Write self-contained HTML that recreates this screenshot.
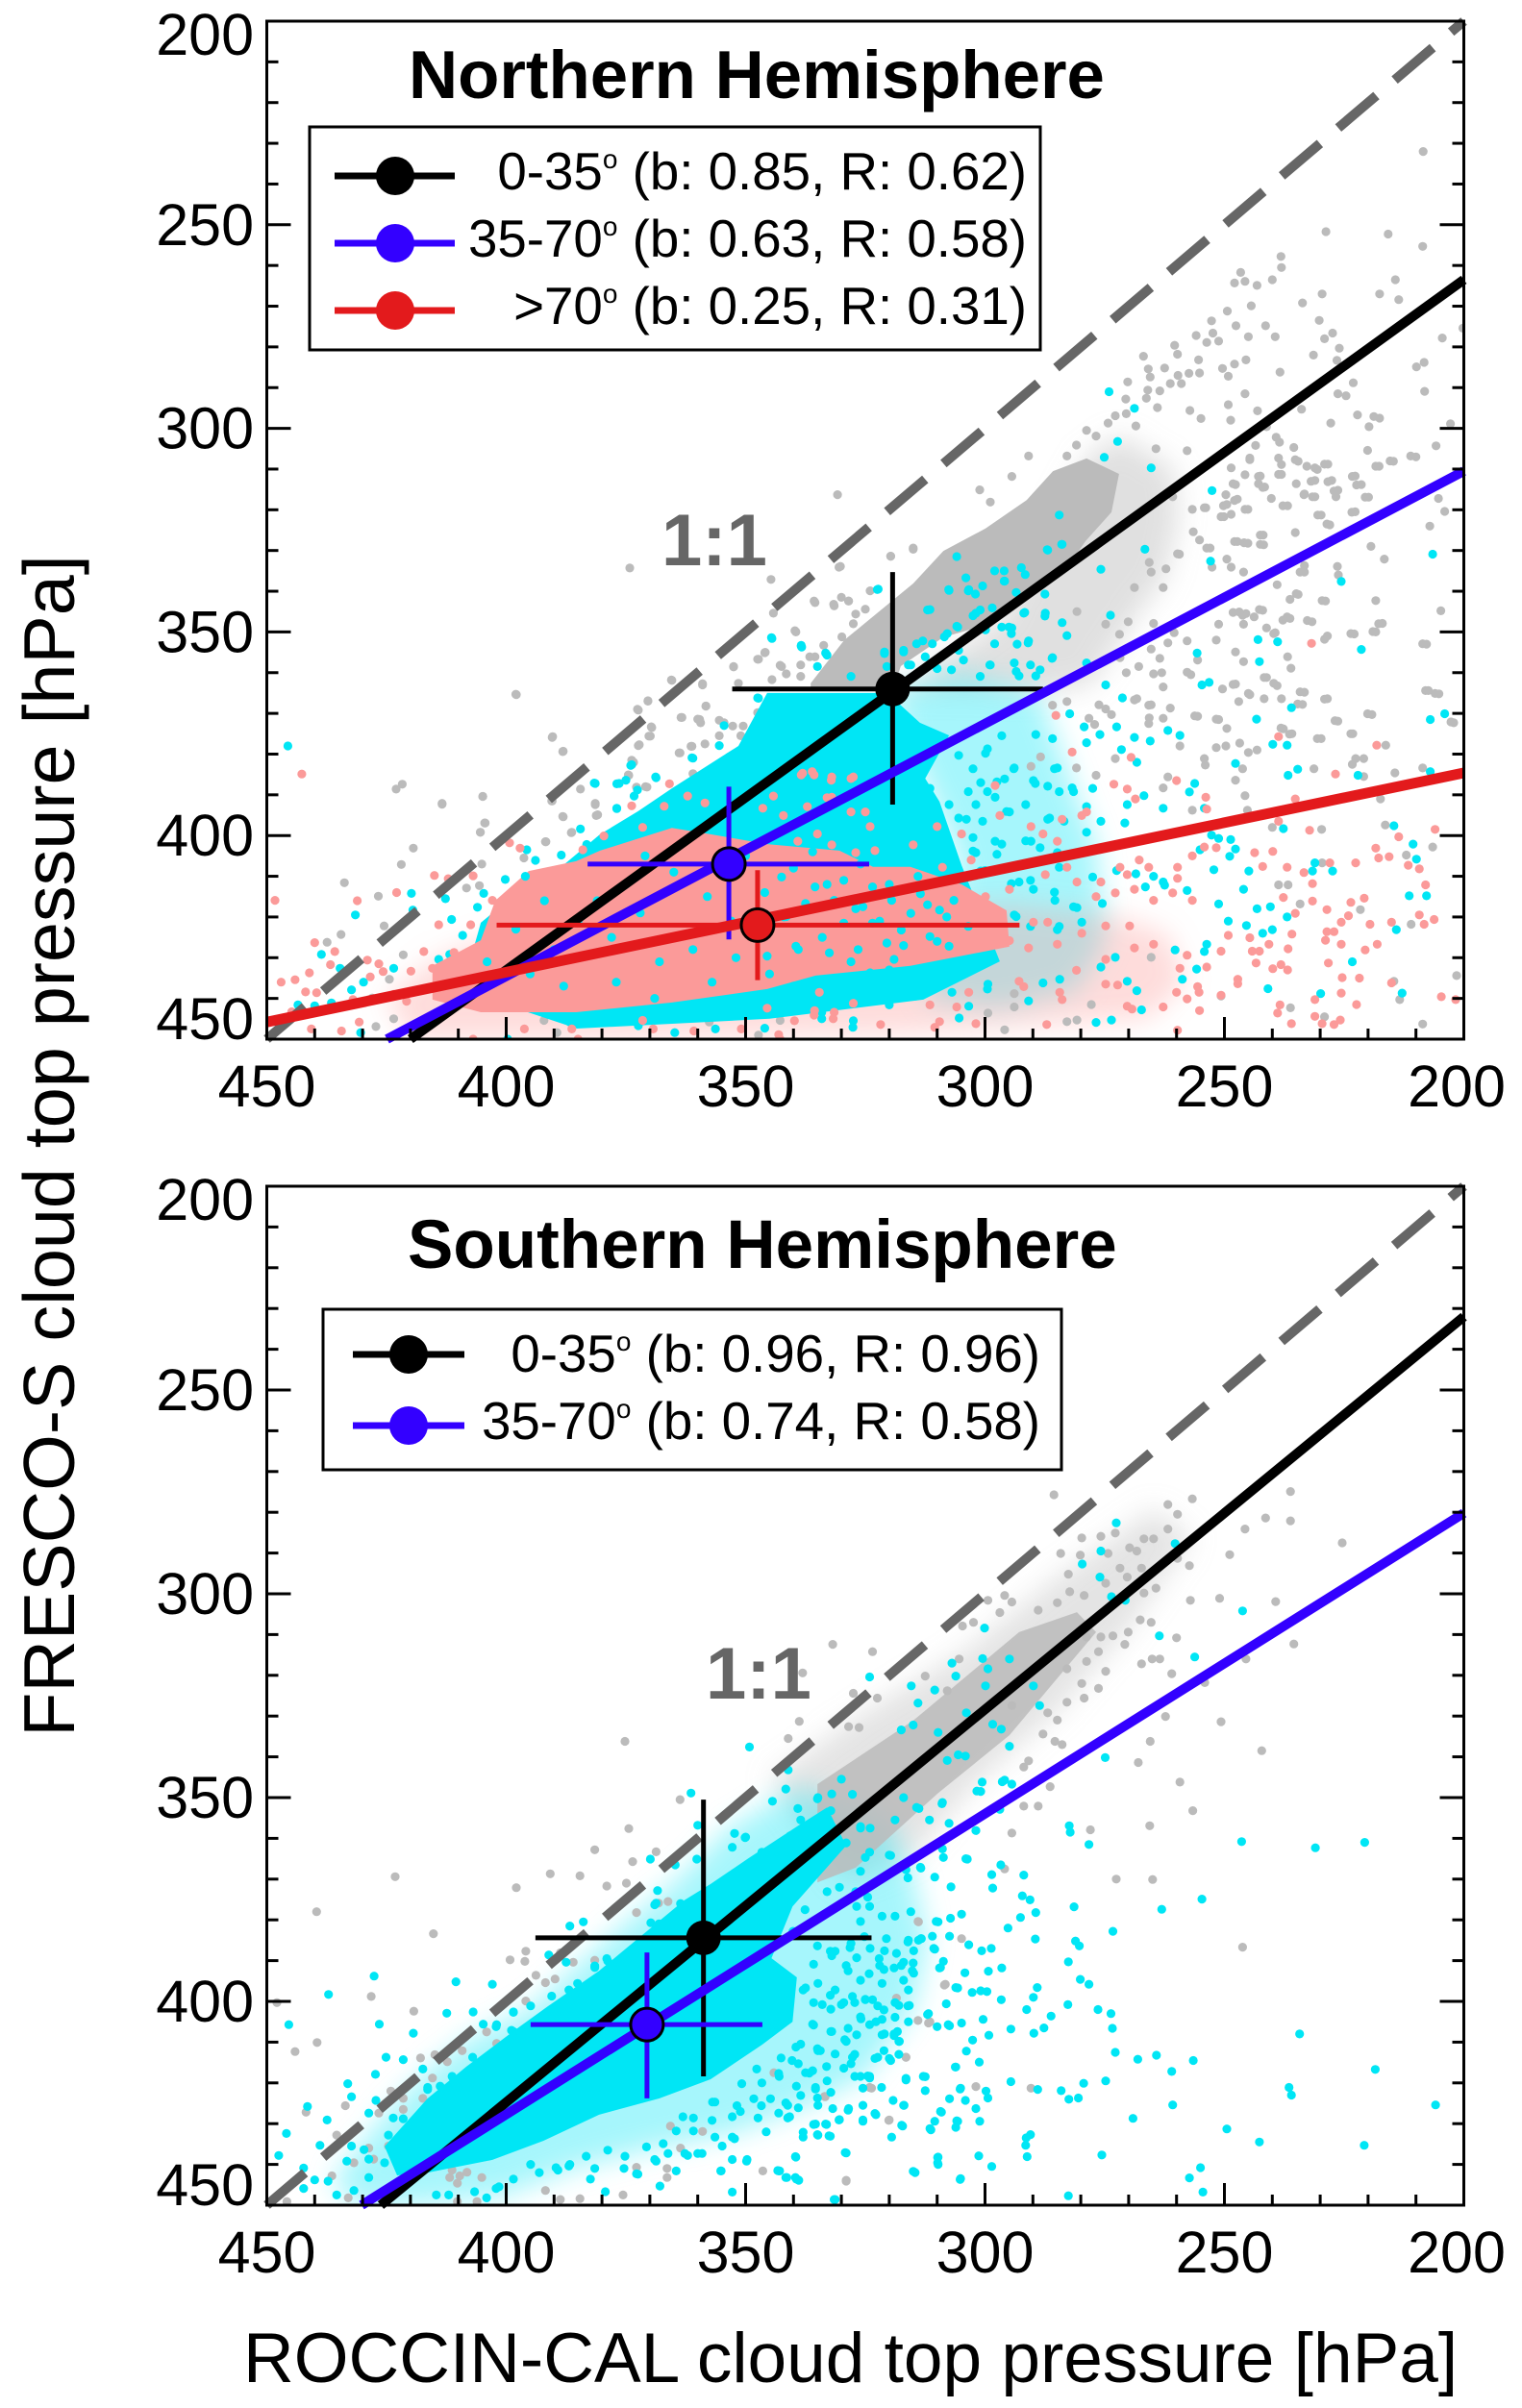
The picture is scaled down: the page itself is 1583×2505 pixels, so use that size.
<!DOCTYPE html>
<html lang="en">
<head>
<meta charset="utf-8">
<title>FRESCO-S vs ROCCIN-CAL cloud top pressure</title>
<style>
html,body{margin:0;padding:0;background:#fff;}
svg{display:block;font-family:"Liberation Sans",sans-serif;}
</style>
</head>
<body>
<svg id="figure" xmlns="http://www.w3.org/2000/svg" width="1583" height="2505" viewBox="0 0 1583 2505">
<defs>
<clipPath id="clip-north"><rect x="277.5" y="22" width="1245" height="1059"/></clipPath>
<clipPath id="clip-south"><rect x="277.5" y="1234" width="1245" height="1060"/></clipPath>
<filter id="soften" x="-20%" y="-20%" width="140%" height="140%"><feGaussianBlur stdDeviation="14"/></filter>
</defs>
<rect x="0" y="0" width="1583" height="2505" fill="#fff"/>
<g id="north-scatter" clip-path="url(#clip-north)"></g>
<g id="south-scatter" clip-path="url(#clip-south)"></g>
<g id="north-lines"></g>
<g id="south-lines"></g>
<g id="north-axes"></g>
<g id="south-axes"></g>

<text x="425" y="102" font-size="70.8" font-weight="bold">Northern Hemisphere</text>
<text x="424" y="1319" font-size="71" font-weight="bold">Southern Hemisphere</text>
<text x="688" y="588" font-size="76" font-weight="bold" fill="#666">1:1</text>
<text x="734" y="1767" font-size="76" font-weight="bold" fill="#666">1:1</text>

<g>
<rect x="322" y="132" width="760" height="232" fill="#fff" stroke="#000" stroke-width="3"/>
<line x1="348" x2="473" y1="183" y2="183" stroke="#000" stroke-width="7"/>
<circle cx="411" cy="183" r="20" fill="#000"/>
<text x="1068" y="197" font-size="54.7" text-anchor="end">0-35<tspan dy="-22" font-size="28">o</tspan><tspan dy="22"> (b: 0.85, R: 0.62)</tspan></text>
<line x1="348" x2="473" y1="253" y2="253" stroke="#3300ff" stroke-width="7"/>
<circle cx="411" cy="253" r="20" fill="#3300ff"/>
<text x="1068" y="267" font-size="54.7" text-anchor="end">35-70<tspan dy="-22" font-size="28">o</tspan><tspan dy="22"> (b: 0.63, R: 0.58)</tspan></text>
<line x1="348" x2="473" y1="323" y2="323" stroke="#e31a1c" stroke-width="7"/>
<circle cx="411" cy="323" r="20" fill="#e31a1c"/>
<text x="1068" y="337" font-size="54.7" text-anchor="end">&gt;70<tspan dy="-22" font-size="28">o</tspan><tspan dy="22"> (b: 0.25, R: 0.31)</tspan></text>
</g>

<g>
<rect x="336" y="1362" width="768" height="167" fill="#fff" stroke="#000" stroke-width="3"/>
<line x1="367" x2="483" y1="1409" y2="1409" stroke="#000" stroke-width="7"/>
<circle cx="425" cy="1409" r="20" fill="#000"/>
<text x="1082" y="1427" font-size="54.7" text-anchor="end">0-35<tspan dy="-22" font-size="28">o</tspan><tspan dy="22"> (b: 0.96, R: 0.96)</tspan></text>
<line x1="367" x2="483" y1="1483" y2="1483" stroke="#3300ff" stroke-width="7"/>
<circle cx="425" cy="1483" r="20" fill="#3300ff"/>
<text x="1082" y="1497" font-size="54.7" text-anchor="end">35-70<tspan dy="-22" font-size="28">o</tspan><tspan dy="22"> (b: 0.74, R: 0.58)</tspan></text>
</g>

<text transform="translate(77 1192) rotate(-90)" font-size="75.5" text-anchor="middle">FRESCO-S cloud top pressure [hPa]</text>
<text x="253" y="2478" font-size="73">ROCCIN-CAL cloud top pressure [hPa]</text>
</svg>
<script>
/* All values are hPa: pairs of x (ROCCIN-CAL), y (FRESCO-S). */
const xTickValues = [450,400,350,300,250,200];
const yTickValues = [200,250,300,350,400,450];
const minorTickValues = [440,430,420,410,390,380,370,360,340,330,320,310,290,280,270,260,240,230,220,210];

const oneToOneLine = [450,450, 200,200];
const nhFitBlack = [420,450, 200,263.5];
const nhFitBlue = [424.9,450, 200,310.5];
const nhFitRed = [450,445.8, 200,384.6];
const shFitBlack = [426.2,450, 200,232];
const shFitBlue = [430.2,450, 200,280.2];

/* error crosses: centre x, centre y, x-low-end, x-high-end, y-top, y-bottom */
const nhCrossBlack = [319.3,364, 352.8,287.9, 335.3,392.4];
const nhCrossBlue = [353.5,407, 383,324.2, 388,425.5];
const nhCrossRed = [347.5,422, 402,292.8, 408.5,435.5];
const shCrossBlack = [358.8,384.4, 393.9,323.7, 350.5,418.4];
const shCrossBlue = [370.6,405.7, 394.9,346.5, 388,423.8];

/* outlines of the areas where dots overlap into a solid mass */
const nhGrayCore = [336.4,364.5,336.4,362.6,329.4,352,315,338.1,308.7,330.1,299.9,324.6,291.3,317.6,285.8,310.5,278.8,307.4,272,311.2,273.6,320.6,279,327.7,282.4,333.4,289.5,339.5,297.3,347.5,308.7,351.3,317.6,358.4,319.2,364.1];
const nhCyanCore = [345.5,365,320.4,365,313.6,372.3,307.5,375.4,312.5,386,309.5,391.7,304.9,407.3,296.9,430.9,312.9,440.3,345,445,385.2,447.4,409.3,438,405.3,421.4,393.3,409.6,388.5,407.7,380.4,399.7,372.4,394,365.4,388.4,351.5,378];
const nhPinkCore = [395.3,408.7,385.4,406.3,380.4,403.7,365.4,398.1,357.3,399.7,345.5,402.1,330.4,403.7,323.4,407.7,315.6,407.7,304.9,412,295.5,418.4,294.9,427.3,315.6,432,335.4,434.4,345.5,437.7,365.4,441,385.4,443.4,405.3,443.4,415.4,440.3,415.4,432,405.3,425.7,402.3,416];
const shGrayCore = [335,346.7,315,331.1,292.9,309.4,280.8,304.5,276.8,309.4,294.9,334.7,309.9,349,327,367.2,335,370.8];
const shCyanCore = [422.8,442.7,425.4,435.6,416.4,423.8,408.3,416,398.5,407.3,391.3,401.2,380.6,392.5,372.6,384.7,362.8,375.2,357.3,371.2,349.3,364.8,339.3,357.1,333,352.4,329,361.8,340.2,376.7,344.6,389.4,339.3,394.1,340.2,405,346.5,410.6,357.3,419.1,368,423.8,380.6,427.8,392.2,434.2,402.9,438.9,416.4,442];

/* outlines of the areas where dots are crowded but do not fully merge */
const nhGrayCrowd = [279,307.4,272,301.7,260.6,309.8,259.7,322.3,262.3,336.4,268.3,345.9,278,363.1,289.5,364.8,319.2,364.1,297.3,347.5];
const nhCyanCrowd = [320.4,365,304.9,360,288.8,364.8,282.8,383.7,276.8,402.6,274.8,426.2,280.8,438,296.9,442.7,312.9,440.3,304.9,407.3];
const nhPinkCrowd = [294.9,416.7,274.8,419.1,262,424,258,436,266,445,315,448.6,345,449.3,385.2,450,419.4,450,425.4,440.3,415.4,430.9,405.3,425.7];
const shGrayCrowd = [345,345.3,325,328.8,304.9,314.6,284.8,295.8,264.7,279.2,256.7,286.3,270.8,309.9,284.8,328.8,300.9,345.3,315,364.2,329,371.2];
const shCyanCrowd = [339,347.6,321,354.7,315,368.9,312,385.4,315,401.9,325,418.4,337,425.5,353.1,432.5,369.2,436.1,385.2,440.8,401.3,447.9,419.4,450,431.4,450,436.4,444.3,425.4,427.8,415.4,416,407.3,408.9,395.3,401.9,377.2,383,365.2,371.2,353.1,357.1];

const nhGrayPoints = [208.5,232,228.8,251.7,215.8,252.3,208.6,255.3,238.2,257.8,238.1,260.5,246.6,261.7,247.9,264.3,245.7,263.9,240,263.5,243.2,264.9,214.3,263.5,217.6,267,213.6,268.4,229.6,267,233.7,269.2,244.4,269.9,249.4,271.2,252.7,273.6,247.6,274.8,241.4,274.8,230.2,273.5,200.2,275.4,255.9,277.2,252.4,276.6,253.7,278.9,251.2,278.6,245,277.5,239.4,277.5,227.4,276.6,229.1,278,204.5,277.8,260.4,279.6,226,280.3,231.4,282,266.9,282.3,259.8,281.8,255.4,283.2,226.5,283.3,208.3,283.8,209.9,284.9,245.5,283.2,247.9,284.2,250.4,285.3,249.2,287.2,238.4,286.2,265.9,285.4,262.5,285.2,259.7,287,257.4,286.5,255.2,286.4,265.5,287.4,270.2,288.6,261.3,289,259,289,223.1,288.8,208.2,290.9,263.5,290.8,266,290.6,245.7,291.5,224.6,292,226.3,291.5,270.6,292.8,266.3,292.6,249.2,294.2,264,294.9,233.9,295.3,243.1,295.7,257.2,295.6,272.8,296.9,270.5,296.4,222.2,296.7,218.8,297.1,217.6,297.5,254.9,297.6,227.8,298.7,248.7,298,219.8,299.6,241.2,299.6,274.3,298.7,268.5,299.4,202.8,298.9,
260.8,316.8,257.3,312.2,264.3,305,257.8,305.5,244.7,307.7,238.7,307.3,235.2,307.7,231.1,309.7,229.1,308.8,238.7,311.3,242.9,311.8,242.9,313.6,242,314.5,248.2,313.6,249.7,316.3,247.9,317.7,245.7,319.9,250.2,319,250.7,321.7,254.2,319.5,256.7,319.9,235,313.6,231.9,313,228.4,313.1,223.3,311.8,222.4,313.9,227.1,315.4,233.4,316.3,231.6,316.8,240.2,317.2,237.8,319,220.6,316.9,230.5,321.3,223.4,320.6,228.6,323.5,235.2,325.6,242.5,326.2,247.9,327.8,245.9,328.1,242.5,328.5,211.1,306.8,215.4,308,218.4,309.3,205.8,304.3,205.3,317.2,204,320.4,207.1,324,219.4,329,216.6,332.1,226.4,333.9,234.2,335.3,253.7,329.4,259.8,330.8,278.8,300.5,276.8,301.9,280.9,304.1,290.9,306.8,282.9,306.8,298.9,318.1,294.4,311.8,301.1,315.1,330.8,316.3,319.7,331.4,330.2,333.9,315,329.4,
218.4,342.3,229.6,342.3,204.8,344.8,208.6,352.9,217.8,348,223.6,350.4,219,349.9,232.7,347.2,229.1,351.8,236.9,346.3,239.7,350.4,235,340.6,242.7,344.5,248.2,345.2,246.2,345.9,208,364.4,206,365.1,229.1,366.5,220.1,370.1,226.9,371.8,238.2,373.6,236.4,375.1,223.6,375,230.6,376.2,202.7,372.1,216.3,377.8,222.6,381.1,220.9,381.1,223.3,382.5,231.3,383.6,208.6,383.4,214.4,384.6,220.9,385.5,239.7,362.6,234.7,367.7,234.2,364.7,241.7,361.2,241.7,366.4,245,365.1,247,367.1,248.2,362.9,251.7,371.4,249.5,373.7,246.8,377.3,243.2,379,245,379.6,249.7,378,251.7,378.4,254.2,381.1,254,382.7,246.2,383.6,247.7,386.4,245.7,390.2,256.2,370.6,217.4,391,245.2,393.8,240,398,229.7,398.5,216.4,397.4,206.5,402.8,212,404.8,229.6,406.7,238.7,412.1,236.7,412.1,234.2,416.8,221.6,418.2,211,421.8,201.5,434.4,214.6,435.8,213.4,440.3,229.1,444.5,208.6,446.3,236.2,442.3,250.7,439.4,265.3,429.9,277.8,441.5,280.8,445.3,282.9,445.7,295.9,447.7,299.4,443.6,293.9,438.8,293.9,442.1,
280.8,345,274.8,348.1,268.8,339.1,262.8,339.1,261.8,352.7,257.8,359.9,264.8,360.3,271.8,356.3,262.8,363.5,268.8,366.7,274.8,368.9,278.3,371.2,265.8,368,262.8,371.2,259.3,378,265.8,372.5,272.8,381.1,276.8,385.2,280.9,383.4,290.4,383,288.4,380.7,261.8,385.6,262.8,388.3,256.7,393.8,282.9,367.1,285.9,368,
253.9,319.5,249.5,318.7,247.3,317.4,245.1,319.9,248.6,321.1,250.1,321.7,236.8,319,229.8,321.3,228,323.7,222.7,320.5,241.9,326.2,241.8,328.6,247.3,327.8,245.1,328.2,255.2,327.4,253,329.4,256.5,325.4,259.4,330.9,262.2,334.5,265.7,332.9,265.3,335.3,249.5,332.1,252.6,334.1,248.6,334.1,246,335.3,233.3,333.7,233.3,335.3,226.2,336,234.6,340.8,228.9,342.4,236.3,342,239,338.4,242,344.7,245.5,345.5,246.9,345.1,243.8,346.3,237.8,347.1,236.3,346.7,231.7,347.5,217,347.9,218.4,350,222.9,350.5,241.2,349,239.4,350.2,246,348.1,251.2,348.1,257.8,352.2,251.7,352,255.6,356.9,247.7,354.9,246,357.3,236.8,356.1,236.1,358.9,228.5,351,241.2,361.2,239,363.2,233.3,364.8,233.7,367.8,238.1,366.4,244.7,365.4,228.5,366.4,247.7,362.8,250.4,364,257,360.5,261.3,368.7,265.3,367.9,255.6,370.7,251.2,371.5,237.7,373.8,226.3,371.9,219.2,370.3,235.9,375,223.2,375,229.8,376.2,207.4,364.4,205.2,365.2,207.8,353,202.1,372.3,210,307,214.7,308.1,217.7,309.3,220.1,305.4,222.7,311.7,221.4,313.8,219.9,316.9,226.3,315.2,226.7,316.8,231.1,312.8,227.6,312.8,233.3,316.1,231.1,316.8,242.5,311.7,241.6,314.4,238.1,308.9,238.1,311.3,234.6,308.1,232.8,309.3,230.6,310.1,228.4,308.8,244.7,307.3,243.5,304.2,248.6,309.7,247.7,313.8,245.7,311.4,238.5,303.4,239.2,302.2,235.5,304.7,264.8,347.9,271.9,350.6,270.1,347.5,265.3,354.2,263.5,356.5,270.5,360,267.9,358.5,263.1,360,260.5,350.2,276.2,367.9,277.1,372.7,273.6,370.3,268.3,366.4,265.7,371.1,
374.2,334.3,344.7,337.1,330.5,334.1,319.7,331.4,315,329.7,335.5,342.8,330,341.5,328.5,342.4,331.5,343.6,324,339.9,325,344.4,327,345.6,329.9,351.2,327.5,348,333.7,353.3,339.5,350,346,355.1,347.5,356.7,342.5,358.5,335.5,356.1,338.5,358.1,341.5,360.3,338.5,360.9,352.5,358.5,351.5,362.6,344.5,361.7,365.4,361.9,359,363,370.4,367,372.4,369.2,358.3,368.2,363.5,371,360,371.4,355.5,371.7,369.6,373.5,369.9,375.6,372.4,377.9,390.4,375.9,388.2,379.4,397.9,365.4,352.7,373.1,350.5,373.1,355.5,375.5,351,375.5,347.5,369.8,345.5,372.2,363.7,379.7,361.2,378.1,358.5,377.5,361,384.8,357.5,384.4,373.4,382,374.4,385.2,370.9,388,404.9,390.4,413.4,392.3,390.4,391.5,381.4,392.4,404.4,396.9,388.2,395.3,380.9,394.9,405.4,399.2,391.7,401.5,386.4,399.3,
398,365.3,390.3,375.7,388.1,379.3,421.7,387.4,423,388.6,413.4,392.1,404.9,390.4,365.5,361.8,370.4,366.9,372.6,369,359,362.7,358.3,368.2,363.3,371,359.6,371.5,369.7,373.3,370.2,375.6,372.2,377.7,363.9,379.7,361.4,378.1,373.8,381.5,374.5,385.1,370.6,388.1,372.8,388.1,384.5,388.6,390.5,391.5,381.4,392.1,388.1,395.4,381.2,395.1,404.5,396.9,405.4,399.2,391.8,401.5,386.3,399.2,419.4,403.1,421.9,407.1,433.8,411.6,426.7,414.9,425.5,422.2,434.5,424.3,437.4,426.2,421.5,429.3,424.4,435.3,428,439.9,423.5,445,427.2,446.9,392.1,445.4,389.4,448.4,377.3,445.8,357.6,445.8,353.6,440.1,342.8,445.4,347.3,449,408.3,412.9,405.6,412.3,405.1,407,396.3,405.5,335.7,342.4,331.6,343.2,328.5,342.4,344.2,345.4,339.7,349.7,352.5,358.6,347.3,356.7,345.9,355,342.8,358.2,336.6,356.1,346.4,369.3,354.5,372.3,359.4,372.3];

const nhCyanPoints = [274.1,291,268.8,295.1,272.3,303.2,275.1,307.1,265.3,309.7,252.6,315.3,284.5,321.3,266.6,329.7,283.9,328.5,252.9,332.6,275.8,334.6,206.5,330.9,305.9,331.5,286.9,329.9,292.4,334.2,225.6,337.6,221.4,354.3,238.9,352.4,243,351.9,242.7,357.3,255.7,355.2,254.7,363,253.2,362.4,236,368.6,243.3,371.4,207,371.5,204,370.1,239.9,377.6,236.9,377.8,234.7,383.7,236.7,385.2,222.1,385.2,207,384.3,247.7,382.3,259.3,375.4,261.8,374.2,265.5,376.8,268.8,375.9,272.5,373.3,276,375.2,279.3,373.3,271.3,366.2,274.8,363,282.3,370.1,285.9,376.2,289.4,375.2,278.8,377.2,271.5,378.9,268.3,382,256.2,387.2,257.3,389.3,254.2,393.3,262.8,393.3,270.3,392.4,266.8,390.2,278.8,392.9,275.8,396.5,270.8,396.9,278.8,399.2,281.8,388.3,286.9,387.9,284.9,383.4,289.9,386.5,248.7,401,251.2,400.7,252.7,399.9,247.7,403.3,248.9,405.1,255.1,403.5,237.7,398.3,214.6,397.6,210.6,402.1,209.9,405.8,231.1,406.7,231.6,408.7,227.4,408.7,244.9,408.7,252.2,408.4,264.8,410,262.8,411.4,257.8,413.5,246,413.2,211.4,414.8,207.8,414.8,251.2,416.8,243.2,418,240.4,417.5,236.9,420,249.2,421,245.4,422.1,240,423.1,242,424,214.1,423.1,253.7,426.7,260.3,428.1,254.2,428.5,223.3,431,255.8,432.8,258.8,435.3,270.3,435.8,268.3,438.1,240.9,437.6,229.9,438.8,212.9,438.7,267.3,442.8,273.6,445.3,276.8,445.9,275.8,432.3,272.8,429.9,284.4,435.3,287.9,436.2,290.9,440.6,299.4,436.5,305.4,444.8,303.4,441.9,
299.9,379.8,295.9,386.1,300.9,387,293.9,383.4,297.9,390.6,301.9,392.4,303.9,396,294.9,394.2,286.9,396,290.4,401.4,284.9,404.2,297.9,401.4,301.9,404.2,292.9,411.4,289.9,413.2,285.4,415.9,280.8,417.7,279.8,421.3,284.9,423.1,293.9,419.5,300.9,408.7,303.9,414.1,301.9,419.5,307.9,423.1,304.9,431.7,313,435.8,306.9,438.5,314.5,439.4,320,441.6,327.5,445.5,324.5,435.8,334.1,443.4,332,439.4,
301.9,345.4,305.9,348.6,311.5,344.5,295.9,337.5,307.6,339.6,303.4,339.6,322.5,339.6,338.4,353.3,333.3,355.2,321,354.9,287.4,345.4,283.9,347.7,282.9,350.9,291.9,345.4,290.9,352.2,294.4,349,299.9,349.5,307.9,350.4,313,352.2,317,354.9,310,359,316,358.1,293.9,357.6,298.9,358.1,292.9,360.8,289.4,360.8,285.9,356.3,278.8,357.6,273.8,345.9,
298,335,296,335,291.6,335.9,296,337.5,304,336.7,300.5,338.7,303.5,339.9,302,340.7,307.5,339.8,287,329.8,284,328.5,293.5,340.3,287.5,340.7,312,344.6,301,344.6,298.5,344.1,291.7,345.2,287.5,346.1,302.5,346,296.5,348.8,295,348.8,305.7,348.8,294.5,350.4,308.5,351.2,311,352.9,314.3,352.9,317,354.5,305.5,354.5,298,352.9,293.3,353,291,352.7,286,356.5,307,359.3,304.5,356.9,299,358.1,301,360.9,293.5,359.7,290.5,358.1,288.5,359.3,312.5,356.1,315.5,358.1,320.5,358.5,321,355.3,328,360.9,333,355.7,335,358.5,338.3,353.7,322.3,339.5,344.5,351.6,347.5,366.2,343,367.4,339,367.8,354.5,373,361,381,355.5,377.9,353.4,380.7,346.5,379.1,374,382.8,381.4,387.2,376.4,387.2,375,386.4,368.7,385.8,372.6,388.8,376.9,393.4,
309.5,377.1,305.5,380.3,302.5,383.6,299.5,378.7,296.5,375.5,294,383.6,297.5,386.8,299.5,389.2,303.5,389.2,307.5,392.4,311.5,388.4,305.5,395.7,300.5,396.5,295.5,394.1,291.5,392.4,285.5,383.6,284.5,389.2,281.5,389.2,289.5,387.2,277.5,388.4,286.5,395.7,283.5,396.5,291.5,401.3,296.5,402.1,302.5,403.8,302.5,400.5,308.5,403,311.5,404.6,288.5,403,300,408.6,294.5,411.8,297.5,404.6,306.5,409.4,290.5,411,284.5,407.8,277.5,410.2,272.5,408.6,268.5,409.4,275.5,416.7,266.5,412.6,262.5,412.2,281.5,417.5,285.5,413.9,293.5,419.9,290.5,422.3,284.5,422.3,297.5,426.4,300.5,421.9,
445.6,378,431.5,419.5,438.6,429.2,434.7,432.6,443.5,441.6,440,441.8,436.5,441.1,432.3,437.9,429.8,436,430.4,448.4,419.8,414.2,419.5,418.3,412.7,415.5,411.4,420.6,423.5,432.6,414.1,430.4,411.8,429.2,381.6,387.1,376.9,387.3,373.8,382.6,368.8,385.6,373.3,390.3,376.9,393.3,384.5,398.4,395.7,403.5,393.9,406.1,388.5,404.8,383.2,402.2,400.2,410.8,404.7,414.2,399.3,414.6,406,417.6,409.1,424.5,399.7,450,386.7,445.8,364.8,448.4,356.3,447.5,346,447.3,334.1,445,327.6,447.1,361.7,442.4,359,438.6,368,444.1,380.5,444.1,372.4,446.7,347.3,366.3,344.6,351.4,338.4,353.5,361.2,380.9];

const nhPinkPoints = [442.7,384.9,448.3,415.9,431.1,416,422.9,414,415,409.8,412.1,410.6,406.9,409.9,399.3,401.8,397.1,403.1,365.9,387.3,373.8,392.7,402.9,415.9,440,426.3,435.8,428.5,447,436,444.1,435.4,441.1,433.7,436.7,431.7,429,430.6,426.6,431.5,425.7,433.4,419.9,433.3,417.2,428.5,414.1,421.9,441.9,438.4,439.6,438.6,444.8,443.3,440.7,447.5,434.4,448,430.7,445.8,432,440.3,428.4,434.7,423.5,439,420.8,440.7,415.4,432.6,412.8,434.7,410.9,428.7,407.4,421.9,406.9,450,396.2,447.5,386.3,447.5,385,450,371.5,445.4,369.3,447.5,360.8,448,350.9,447.5,342.8,450,345.5,442.4,335.7,444.1,331.7,445,362.1,390.3,358.5,392,346.4,393.3,344.2,390.3,338.4,385.1,335.7,385.1,332.1,386.4,328,386,333,390.7,367,392.8,371.5,398,379.6,400.1,384,403.5,
231.8,352.8,285.2,370.5,238.7,375.7,218.2,377.8,226.8,384.9,269.5,380.8,281.8,379.5,297.9,387.7,260,386.5,273.1,387.4,270.3,388.6,268.6,391,253.9,390.6,253.7,393.5,235.2,391,238.7,396.5,232.2,398.7,206,398.5,213.6,400.3,218.4,403.1,239.9,403.9,243.7,404.2,251.7,403,222.6,406.7,228,406.7,217.8,405.5,215.6,405.2,211.6,407.3,209.3,408.2,236.9,407.8,242,407.6,233.4,409.1,231.6,411.8,208,412.1,231.6,416.1,237.7,415.2,235.2,419.1,228.6,418.2,223.6,416.4,220.8,415.4,224.1,419.7,209.3,419.5,206.2,420.6,225.6,421.3,215.1,421.3,208.3,421.8,219.6,421.8,228.6,423.6,227.1,423.6,235.9,424.2,228.9,425.7,225.6,426.7,218.1,426.7,220.6,428.1,236.7,427.8,242.7,428.4,244.2,428.4,240.7,426.7,244.7,425.1,249.2,424.5,250.7,428.4,243.4,431.3,238.2,431.7,239.9,432.7,236.8,433,228.3,431.3,225.4,434.9,221.8,435,215.1,436.2,247.2,435.3,247.2,436.4,225.6,438.7,222.4,441.5,204.7,439.6,201.7,440.3,231.1,440.3,238.4,441.6,238.9,443.6,231.1,444.4,236,446.2,229.6,446.2,227.1,446.4,225.8,445.3,259.8,447.8,255.2,443,257.8,440.1,260,438.5,255.6,437.1,255.3,438.5,250.7,439.2,257.8,429.4,259.3,432.6,253.7,432.3,262.8,442.1,270.3,441.9,269.3,442.6,274.8,436.5,272.3,436.7,284.4,438.5,283.9,440.3,287.1,446.4,292.9,435.8,291.9,437.1,301.9,446.2,310.5,447.1,309.5,445.7,321.8,446.4,303.4,438.5,305.9,442.1,311.5,441.6,327.5,441.2,331.5,443.4,335.6,443,334.6,438.5,339.8,445.5,343.1,448.9,
284.9,401.4,287.9,399.6,290.4,397.8,283.9,396,279.8,395.1,278.8,394.2,282.9,407.8,287.4,409.6,280.8,411.4,275.8,411.4,271.8,407.8,267.8,406,270.3,409.6,265.8,407.8,259.8,407.8,256.7,405,254.2,402.8,259.8,410.5,260.8,414.1,256.7,415.9,264.8,415.9,268.8,413.2,272.8,414.1,276.8,415,279.8,424,274.8,422.2,269.8,422.2,264.8,426.7,268.8,427.6,274.8,430.4,280.9,433.1,284.9,426.7,290.9,427.6,289.9,421.3,286.9,421.3,294.9,425.8,296.9,395.1,304.9,399.6,310,397.8,315,402.3,308.9,407.8,302.9,406,297.9,408.7,294.9,413.2,299.9,415,
338.1,384.7,332,385.6,327.5,385.6,336.1,384.3,342.1,395.1,337.1,392.9,332,390.6,328,394.2,325,394.2,324,397.8,335,399.6,332,402.3,339.1,401.4,327,404.2,323,403.7,325,407.8,330,409.6];

const nhCyanThroughPink = [385,421,390,428,378,425,372,419,368,431,361,428,357,436,352,430,345,434,339,428,334,425,328,431,322,421,317,427,312,417,320,412,327,418,333,412,340,408,346,414,358,415,365,409,375,412,381,416,392,416,398,423,404,431,395,434,388,437,377,436,369,440,359,442,350,441,340,437,330,438,320,433,310,426,308,420,353,421,342,420,350,405,336,404,326,407,314,410,396,410,371,405,
342.5,410.2,335.5,412.6,329.5,411,323.5,412.6,319.5,415.9,325.5,417.5,331.5,415.9,337.5,416.7,341.5,419.9,329.5,421.5,323.5,421.5,317.5,423.2,311.5,424.8,309.5,418.3,313.5,414.3,306.5,415.9,303.5,422.3,315.5,419.1,320.5,426.4,307.5,427.2,326.5,428,332.5,428.8,339.5,427.2,345.5,429.6,319,430.4,324,433.7,328.5,435.3,319.5,438.5,311.5,436.1,304.5,432,299.5,437.7];

const shGrayPoints = [225.4,287.5,236.2,282.1,241.4,281.4,245.7,284.1,236.2,274.9,248.9,290.4,251,301.1,239.3,301.9,235.5,312.3,245.5,316,254.1,321.8,262.3,330.1,250.7,331.4,265.5,336.2,242.2,338.5,268,341.4,259.3,346.2,256.6,353.2,265.6,356.9,278,357.9,272.6,370,265,370.1,246.2,386.7,261,319.6,267.3,317.2,265.1,316,263.5,316,260,310.8,257.1,301.6,285.6,275.7,279.8,286.3,275.8,285.9,272.8,285.1,284.2,290.1,280.1,290.5,274.3,290.1,269.8,288.7,268.3,289.5,266.8,286.5,264.8,286.5,261.8,284.1,259.8,280.5,261.8,278.1,256.7,276.7,257.3,293.1,259.8,291.3,267.3,293.7,271.8,293.7,282.6,295.2,274.8,297.4,270.3,295.9,264.3,298.6,266.8,299.8,282.3,299.5,279.3,300.4,284.9,302.2,288.9,304,295.9,300.4,294.4,302,299.4,301.6,296.9,304.6,302.4,307,304.7,307.9,267.6,306.4,265.3,307,270.1,309.4,273.3,310.3,275.8,310.6,278.8,310.6,270.8,312.4,276.3,314.2,278.8,316.6,274.8,319,276.3,323.2,279.8,322,282.9,318.4,279.3,325.6,282.9,326.6,286.9,329.2,284.9,331,287.9,334.4,285.4,336.2,283.9,337,290.9,341,291.9,342.5,286.4,347.3,291.9,352.1,288.9,352.1,294.4,358.7,295.9,367.5,304.9,384.6,314,380.4,308.5,396,318.5,399.2,311.5,405,314,404.7,316.5,413.7,301.9,420.9,290.4,421.3,320,429.1,323.7,421.3,329,443.9,333.5,423.3,331.8,312.4,323.5,314.2,327.5,324.4,322.5,325.6,338.8,331.3,328.5,332.6,326.3,332.8,341.1,335.5,338.1,319.4,312.5,320.2,305.4,316,307.9,323.8,294.4,327.4,
375.2,336.2,363.7,350.5,374.4,357.6,381.5,362.8,368.7,363.3,373.6,365.7,390.8,368.7,384.6,369.2,423.2,369.4,397.9,372.1,374.9,371,379,371.7,368.2,375.9,366.2,375.5,439.6,378,372.8,378.2,415.2,383.4,395.9,387.7,399.2,389.8,396.1,390.2,388.7,388.1,386,390.4,381.5,389.9,428.2,398.8,447.9,400.3,439.5,410.1,419.3,402.4,444.1,412.3,417.9,413.9,414.9,413.1,393.8,393.6,391.8,395.4,389.8,394.5,395.9,399.9,404.1,407.5,402,410.3,409.2,412.1,412.3,414.8,415.4,418.8,424.1,422,421.5,423.8,417.4,423.8,433.6,425.6,441.8,427.2,426.6,427.4,421.5,426.5,435.4,432.8,431.8,439.6,436.4,442.8,433,448.2,445.8,449.1,346.4,441.6,329,444.1,366.4,441,366.4,443.2,391.8,446.4,384.6,448.4,375.6,447.5,372.8,440.7,388.7,448.6,410.2,449.1,406.1,449.1,333.4,423.4,344.1,417.5,316.5,413.7,308.3,395.8,313.9,380.5,311.8,405.3,320.1,429.2,324.1,421.1,359,431.9,363.6,436,365.7,430.6,
411.3,441.4,409.7,442.8,411.8,443.2,408.2,441.9,410.2,444.6,413.3,440,405.1,443.2,417.4,439.2,404.1,435.5,420.5,434.6,424.6,435.5,428.7,436,427.7,438.7];

const shCyanPoints = [272.6,282.6,260.3,287.7,275.8,289.5,279.7,292.7,276,295.9,246.2,304.2,270.7,301.6,273.6,300.7,263.6,310.3,256.2,315.5,300.1,308.4,306.9,317,300.5,315.9,294.9,316,299.4,318.4,306.1,320.2,299.9,322.6,315.4,322.6,324.1,320.4,310.5,323.6,314,326.8,303.9,329.2,298.4,332,296.6,333.2,289.9,322.6,288.6,327.4,315,332.2,317.5,333.4,309.8,334,294.9,337.4,305.6,339.5,304.1,339.8,307.9,340.9,274.9,340.2,295.9,345.7,294.4,346.7,300.6,346.2,300.9,348.5,296.9,352.9,309,351.5,313.8,352.7,307.5,356.3,301.9,358.1,282.4,356.9,282.2,358.5,278.3,361.5,246.4,360.8,231,362.3,220.7,361,303.7,365.1,308.7,364.7,313.5,367.1,316.5,367.7,296.7,366.5,298.6,368.9,291.9,369,310.5,369.5,307.1,371.9,298.4,372.2,292.2,374.1,290.6,375.1,289.4,378.2,281.4,376.8,263.1,377.4,254.7,374.9,292.6,379.4,295.2,382,304.9,378.6,315.5,378,310.2,380.4,273.3,382.8,289.5,384.7,281.1,385.2,280.3,386.4,307.4,384,311,384,313.3,384.6,300.7,387.6,298.7,387,303.4,386.1,310.5,387.2,314.9,387.6,282.6,390.3,308.7,390.2,309.5,391.8,317.5,391.2,315,390.6,296.5,391.8,299.3,392.6,304.2,393,280.1,394.6,278.3,395.8,289.1,396.6,306.1,396.6,302.7,397.8,300.9,397.4,299.6,397.6,316,397.2,289.9,399,296.6,399.6,308.1,400.6,318,401,315.8,401,282.7,400.8,291.3,402,276.4,402,273.7,403,286.2,403.6,312,403.2,300.4,404.4,316,405,287.7,406.5,294.6,406.8,304.9,405.3,307.4,406,310,406.2,289.8,407.8,273.4,406.6,299.2,408.3,234.3,408,318,409.8,302.6,409.5,303.9,412.2,272.8,412.5,268.1,414.2,264.2,413.2,256.5,414.5,261,417.2,301.2,414.9,306.1,416.1,218.5,416.7,312.5,418.5,316.5,418.9,294.6,419.7,289,421.6,274.8,419.5,279.4,420.1,284.1,421.9,282.5,424,280.5,423.7,236.5,421.1,236,423,299.8,422,299.4,423.7,312.5,421.9,305.1,421.3,307.4,423.9,304.1,424.3,205.9,425.4,260.8,425.4,319.2,424.3,316.9,425.5,309.3,427,301.9,426.3,269.1,428.7,305.9,429.3,306.1,430.9,301.1,429.4,310.5,429.4,311.5,431.2,317.4,430.4,249.5,431.3,290.5,432.7,291.4,433.5,291.5,435.3,291.2,438.1,242.7,434.5,220.8,435.3,275.6,437.7,309.9,438.3,309.9,439.6,301.3,437.9,298.6,440.5,315,441.7,305.1,443.5,255,440.8,257.3,443.3,254.5,446.8,282.6,447.7,329.2,437.1,339.6,438.1,343.3,441.5,341.6,443.2,339.6,443.2,338.9,443.9,331.5,448.6,
340.1,382.8,335,386.4,332,388.8,329,391.2,326,394.8,325,399.6,330,400.8,334,400.8,338,397.2,341.1,404.4,336,405.6,332,407.4,329,409.8,326,403.8,323.5,399.6,321.5,404.4,319,408,321,408,323,414,320,414,335,411.6,339,415.3,343.1,417.7,336,417,333,419.5,335,423.7,325.5,421.3,324.5,418.3,328,415.3,339,426.1,341.6,424.9,341.1,428.5,338,432.1,335,432.7,332.6,433,330.5,429.1,328.5,426.3,325.5,429.1,323,427.5,339.1,352.7,335,350.3,332,349.1,330,345.5,326,357.5,324,357.5,329,361.1,332,362.3,325,364.7,320,364.1,336,361.1,333,373.1,327,373.1,324.5,374.4,326,380.4,328,385.8,324,387,321,387.6,318.5,388.2,322,391.2,319,391.8,
335.8,390.9,331.3,387.7,326.8,389.3,328.6,392.5,324.2,393.2,321.5,395.6,317,394.8,315.2,392.5,316.1,385.4,320.6,384.6,313.4,384.6,310.7,387,334.9,395.6,331.3,397.2,327.7,398.8,325,399.5,335.8,400.3,332.2,401.9,329.5,400.3,325.9,404.3,322.4,401.1,318.8,400.3,316.1,401.1,322.8,405,318.8,403.9,335.8,405.8,332.2,407.4,328.6,406.6,326.8,408.2,321.5,408.2,318.3,407.4,317.9,409.8,338.5,410.5,334.9,412.1,331.3,412.9,327.7,413.7,322.4,413.7,319.7,414.5,340.3,414.5,336.7,417.6,333.1,416,329.5,416.4,324.1,418.8,346.6,420,343,418.4,339.4,420.8,335.4,421.5,332.2,422.3,326,418.4,348.3,423.9,344.8,423.9,341.2,425.5,338.5,423.1,334.9,425.5,331.8,426.3,328.6,426.7,325.5,425.5,322.8,427.8,317,425.5,351.1,427,347.4,428.6,341.2,428.6,335.8,430.2,333.1,430.2,330.4,429,325.5,429.4,356.4,424.7,360.9,428.6,364.5,431.8,360.9,431.8,356.4,433.3,352.8,433.3,367.2,434.9,370.7,435.7,375.2,438,369,438.8,359.1,437.3,362.7,437.3,352.8,438.8,349.7,438.8,378.8,436.5,383.3,438,386.9,440.4,389.6,440.8,393.1,442,382.4,443.6,372.5,442.4,398.5,443.6,402.1,445.9,406.6,446.7,412,447.5,414.6,447.5,364.5,441.6,355.1,441.6,342.9,441.6,339.4,443.6,
416.4,421.6,413.8,420.8,423.6,428.6,420,433.3,422.7,435.7,425.4,439.6,420,438.8,407,413.7,404.3,416.8,408.4,418,411.1,418.8,402.1,406.2,398.5,402.7,398.5,407.4,394.9,401.1,390.5,398.7,386.9,397.2,385.1,395.6,378.8,390.1,381.5,391.7,369.8,380.7,368.1,381,363.6,376,369,376.3,352.8,362.2,350.1,359.8,346.6,363.4,343,361.8,340.7,359.4,338.5,355.5,334.9,350,332.2,353.2,327.7,349.2,335.8,357.1,330.4,361.8,326,357.1,324.1,363.4,319.7,364.2,326,368.1,330.4,372,335.8,368.9,337.6,377.5,326.8,376.7,324.1,376.7,321.5,379.1,318.8,379.1,311.6,355.5,314.3,352.4,317,350,318.8,355.5,308.9,351.2,301.7,348.4,296.4,346.1,304,365,308.9,362.6,313.4,367.3,316.1,369.7,
349.2,337.6,361.4,348.9,360,356.8,360.2,365.1,369.9,365.1,364.7,366.5,341.1,343.2,341.6,347.9,344.4,350.9,368.4,372.8,368.7,375.9,352.3,358.8,350,359.7,383.9,380.5,386.7,381.5,391.1,388.6,387.5,390.4,379,389.5,381.5,391.3,427.6,393.8,437.1,398.3,410.5,395.2,402.9,395.8,426.5,405.6,445.4,405.7,412.4,402.9,406.9,402.6,404.8,405.6,419.4,407.8,398.5,402.6,402,405.7,398.9,407.1,425.1,413.7,421.5,414.3,427.3,417.9,433.1,420.2,432.3,423.4,441.5,425.8,427.2,424.3,437.4,429.1,428.7,427.4,445.9,432.4,438.9,435.3,447.5,437.8,432.3,435.5,429.7,436.4,442.3,440.9,440,443.8,437.2,444.1,442.3,445.9,435.4,447.5,431.8,446.4,428.7,443.2,428.7,438.7,433.3,439.2,424.6,432.8,421.5,433.3,417.4,416.6,411.3,418.4,416.4,421.1,412.3,423.8,421.5,428.8,352.8,446.8,379.3,446.7,367.9,445.3,355.2,441.6,349.8,439.2,339.5,438.2,343.1,441.6,341.4,443.2,339,443.8,331.3,448.6,314.6,442,309.8,438.2,309.8,440,305.2,443.7,329,437.2,317.2,430.6,311.3,431.5,309.1,427.2,305.7,429.4,319.5,433.3,332.3,433.1,334.9,432.8,338,433.3,335.4,430.1,333.3,430.1,340.8,428.3,343.1,427.4,345.7,432,352.3,433.7,354.9,435.5,360,437.3,362.1,437.8,366.2,437.3,368.7,439.2,375.4,441,372.8,442.3,381.5,441,386.7,440,389.2,441.4,394.9,440,404.1,448.2,401.5,445.5,
337.5,396.7,332.3,398.5,327.2,400.3,321.1,402.1,311.8,403,307.7,405.7,319,408.4,324.1,405.7,329.3,409.4,334.4,412.1,339.5,411.2,342.6,413.9,327.2,413,321.1,412.1,318,413,337.5,417.5,335.4,421.1,327.2,418.4,324.1,418.4,321.6,421.1,312.9,418.4,316.5,419.3,306.2,416.1,305.2,421.5,350.8,420.2,347.7,416.6,356.9,424.7,351.8,425.6,346.7,425.6,363.1,428.3,357,429.2,352.8,428.3,332.3,387.7,328.2,386.8,322.1,389.5,325.2,384.1,316,385,313.9,385,309.3,391.7,314.9,393.1,321.1,392.2,317,390.4,309.8,380.5,305.7,396.7,307.2,379.6];

const plotLeft = 277.5;
const plotRight = 1522.5;
const svgNS = 'http://www.w3.org/2000/svg';

function xScale(v) {
  return plotLeft + (450 - v) / 250 * (plotRight - plotLeft);
}
function makeYScale(top, bottom) {
  return function (v) {
    return top + (v - 200) / 250 * (bottom - top);
  };
}
function shape(parent, tag, attrs) {
  const el = document.createElementNS(svgNS, tag);
  Object.keys(attrs).forEach(function (k) { el.setAttribute(k, attrs[k]); });
  parent.appendChild(el);
  return el;
}
function drawCore(parent, values, yScale, fill, opacity, soft, name) {
  const pts = [];
  for (let i = 0; i < values.length; i += 2) {
    pts.push(xScale(values[i]).toFixed(1) + ',' + yScale(values[i + 1]).toFixed(1));
  }
  const el = shape(parent, 'polygon', { points: pts.join(' '), fill: fill, 'fill-opacity': opacity });
  if (soft) { el.setAttribute('filter', 'url(#soften)'); }
  
  
}
function drawDots(parent, values, yScale, fill, name) {
  for (let i = 0; i < values.length; i += 2) {
    const el = shape(parent, 'circle', { cx: xScale(values[i]).toFixed(1), cy: yScale(values[i + 1]).toFixed(1), r: 4.6, fill: fill });
    
    
  }
}
function drawLine(parent, values, yScale, stroke, width, dash, name) {
  const attrs = { x1: xScale(values[0]), y1: yScale(values[1]), x2: xScale(values[2]), y2: yScale(values[3]), stroke: stroke, 'stroke-width': width };
  if (dash) { attrs['stroke-dasharray'] = dash; }
  const el = shape(parent, 'line', attrs);
  
  
}
function drawCross(parent, values, yScale, color, outline, name) {
  const cx = xScale(values[0]);
  const cy = yScale(values[1]);
  const h = shape(parent, 'line', { x1: xScale(values[2]), x2: xScale(values[3]), y1: cy, y2: cy, stroke: color, 'stroke-width': 5 });
  
  
  const v = shape(parent, 'line', { x1: cx, x2: cx, y1: yScale(values[4]), y2: yScale(values[5]), stroke: color, 'stroke-width': 5 });
  
  
  const m = shape(parent, 'circle', { cx: cx, cy: cy, r: outline ? 17 : 18, fill: color });
  if (outline) {
    m.setAttribute('stroke', '#000');
    m.setAttribute('stroke-width', 3);
  }
  
  
}
function drawAxes(parent, top, bottom, yScale, prefix) {
  const frame = shape(parent, 'rect', { x: plotLeft, y: top, width: plotRight - plotLeft, height: bottom - top, fill: 'none', stroke: '#000', 'stroke-width': 3 });
  
  
  minorTickValues.forEach(function (v) {
    const b = shape(parent, 'line', { x1: xScale(v), x2: xScale(v), y1: bottom, y2: bottom - 11, stroke: '#000', 'stroke-width': 3 });
    
    
    const yv = 650 - v;
    const l = shape(parent, 'line', { x1: plotLeft, x2: plotLeft + 12, y1: yScale(yv), y2: yScale(yv), stroke: '#000', 'stroke-width': 3 });
    
    
    const r = shape(parent, 'line', { x1: plotRight, x2: plotRight - 12, y1: yScale(yv), y2: yScale(yv), stroke: '#000', 'stroke-width': 3 });
    
    
  });
  xTickValues.forEach(function (v) {
    const t = shape(parent, 'line', { x1: xScale(v), x2: xScale(v), y1: bottom, y2: bottom - 23, stroke: '#000', 'stroke-width': 3 });
    
    
    const lab = shape(parent, 'text', { x: Math.min(xScale(v), 1515), y: bottom + 70, 'font-size': 61, 'text-anchor': 'middle' });
    lab.textContent = String(v);
    
    
  });
  yTickValues.forEach(function (v, i) {
    const l = shape(parent, 'line', { x1: plotLeft, x2: plotLeft + 25, y1: yScale(v), y2: yScale(v), stroke: '#000', 'stroke-width': 3 });
    
    
    const r = shape(parent, 'line', { x1: plotRight, x2: plotRight - 25, y1: yScale(v), y2: yScale(v), stroke: '#000', 'stroke-width': 3 });
    
    
    const shift = i === 0 ? 35 : (i === yTickValues.length - 1 ? 0 : 21);
    const lab = shape(parent, 'text', { x: 264, y: yScale(v) + shift, 'font-size': 61, 'text-anchor': 'end' });
    lab.textContent = String(v);
    
    
  });
}

const GRAY = '#bbbbbb';
const CYAN = '#00e6f5';
const PINK = '#fb9a99';
const BLACK = '#000000';
const BLUE = '#3300ff';
const RED = '#e31a1c';
const DASHGRAY = '#666666';

const yNorth = makeYScale(22, 1081);
const ySouth = makeYScale(1234, 2294);

const ns = document.getElementById('north-scatter');
drawCore(ns, nhGrayCrowd, yNorth, GRAY, 0.45, true, 'northern-crowded-0-35');
drawCore(ns, nhCyanCrowd, yNorth, CYAN, 0.35, true, 'northern-crowded-35-70');
drawCore(ns, nhPinkCrowd, yNorth, PINK, 0.35, true, 'northern-crowded-over-70');
drawCore(ns, nhGrayCore, yNorth, GRAY, 1, false, 'northern-dense-0-35');
drawDots(ns, nhGrayPoints, yNorth, GRAY, 'northern-point-0-35');
drawCore(ns, nhCyanCore, yNorth, CYAN, 1, false, 'northern-dense-35-70');
drawDots(ns, nhCyanPoints, yNorth, CYAN, 'northern-point-35-70');
drawCore(ns, nhPinkCore, yNorth, PINK, 1, false, 'northern-dense-over-70');
drawDots(ns, nhPinkPoints, yNorth, PINK, 'northern-point-over-70');
drawDots(ns, nhCyanThroughPink, yNorth, CYAN, 'northern-point-35-70');

const ss = document.getElementById('south-scatter');
drawCore(ss, shGrayCrowd, ySouth, GRAY, 0.4, true, 'southern-crowded-0-35');
drawCore(ss, shCyanCrowd, ySouth, CYAN, 0.35, true, 'southern-crowded-35-70');
drawCore(ss, shGrayCore, ySouth, GRAY, 0.85, false, 'southern-dense-0-35');
drawDots(ss, shGrayPoints, ySouth, GRAY, 'southern-point-0-35');
drawCore(ss, shCyanCore, ySouth, CYAN, 1, false, 'southern-dense-35-70');
drawDots(ss, shCyanPoints, ySouth, CYAN, 'southern-point-35-70');

const nl = document.getElementById('north-lines');
drawLine(nl, oneToOneLine, yNorth, DASHGRAY, 10, '52 25', 'northern-one-to-one-line');
drawLine(nl, nhFitBlack, yNorth, BLACK, 10, null, 'northern-fit-0-35');
drawCross(nl, nhCrossBlack, yNorth, BLACK, false, 'northern-0-35');
drawLine(nl, nhFitBlue, yNorth, BLUE, 10, null, 'northern-fit-35-70');
drawCross(nl, nhCrossBlue, yNorth, BLUE, true, 'northern-35-70');
drawLine(nl, nhFitRed, yNorth, RED, 11, null, 'northern-fit-over-70');
drawCross(nl, nhCrossRed, yNorth, RED, true, 'northern-over-70');

const sl = document.getElementById('south-lines');
drawLine(sl, oneToOneLine, ySouth, DASHGRAY, 10, '52 25', 'southern-one-to-one-line');
drawLine(sl, shFitBlack, ySouth, BLACK, 10, null, 'southern-fit-0-35');
drawCross(sl, shCrossBlack, ySouth, BLACK, false, 'southern-0-35');
drawLine(sl, shFitBlue, ySouth, BLUE, 10, null, 'southern-fit-35-70');
drawCross(sl, shCrossBlue, ySouth, BLUE, true, 'southern-35-70');

drawAxes(document.getElementById('north-axes'), 22, 1081, yNorth, 'northern');
drawAxes(document.getElementById('south-axes'), 1234, 2294, ySouth, 'southern');
</script>
</body>
</html>
